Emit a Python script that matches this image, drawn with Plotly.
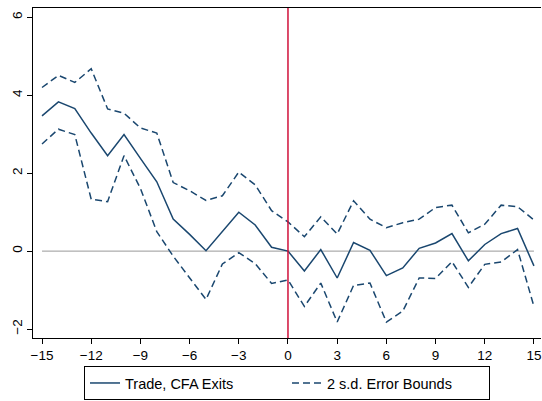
import plotly.graph_objects as go

# Event time (years relative to exit) and estimated trade effect with 2 s.d. bounds
periods = list(range(-15, 16))
estimate = [3.47, 3.83, 3.66, 3.03, 2.45, 2.99, 2.38, 1.78, 0.82, 0.43, 0.01, 0.50, 1.00, 0.67, 0.10, 0.00,
            -0.51, 0.04, -0.69, 0.22, 0.02, -0.63, -0.43, 0.07, 0.21, 0.45, -0.25, 0.17, 0.45, 0.58, -0.38]
upper = [4.20, 4.51, 4.33, 4.68, 3.65, 3.54, 3.16, 3.03, 1.76, 1.55, 1.30, 1.42, 2.03, 1.70, 1.04, 0.75,
         0.37, 0.88, 0.44, 1.29, 0.82, 0.60, 0.73, 0.82, 1.12, 1.18, 0.47, 0.69, 1.18, 1.14, 0.80]
lower = [2.75, 3.13, 2.99, 1.33, 1.27, 2.45, 1.61, 0.50, -0.13, -0.68, -1.24, -0.33, -0.04, -0.32, -0.83, -0.74,
         -1.42, -0.82, -1.82, -0.88, -0.82, -1.82, -1.54, -0.69, -0.70, -0.27, -0.93, -0.34, -0.28, 0.04, -1.42]
x_ticks = list(range(-15, 16, 3))
y_ticks = [-2, 0, 2, 4, 6]

navy = "#1a476f"
font = "Liberation Sans, Arial, sans-serif"

fig = go.Figure()
fig.add_trace(go.Scatter(x=periods, y=estimate, mode="lines", name="Trade, CFA Exits",
                         line=dict(color=navy, width=1.5)))
fig.add_trace(go.Scatter(x=periods, y=upper, mode="lines", name="2 s.d. Error Bounds",
                         line=dict(color=navy, width=1.5, dash="7px,4px")))
fig.add_trace(go.Scatter(x=periods, y=lower, mode="lines", name="2 s.d. Error Bounds",
                         showlegend=False, line=dict(color=navy, width=1.5, dash="7px,4px")))

# zero reference line and event marker
fig.add_shape(type="line", x0=min(periods), x1=max(periods), y0=0, y1=0, xref="x", yref="y",
              line=dict(color="#999999", width=1), layer="below")
fig.add_shape(type="line", x0=0, x1=0, y0=0, y1=1, xref="x", yref="paper",
              line=dict(color="#d0103a", width=1.5))

fig.update_layout(
    width=542, height=401,
    margin=dict(l=33, r=1, t=8, b=63, autoexpand=False),
    paper_bgcolor="white", plot_bgcolor="white",
    font=dict(family=font, size=13.5, color="black"),
    showlegend=True,
    legend=dict(orientation="h", x=0.5, xanchor="center", y=-0.085, yanchor="top",
                bordercolor="black", borderwidth=1, font=dict(size=14.5, family=font),
                entrywidth=157, entrywidthmode="pixels", tracegroupgap=0),
)
fig.update_xaxes(range=[-15.55, 15.43], tickvals=x_ticks, ticks="outside", ticklen=5,
                 tickcolor="black", showline=True, linecolor="black", linewidth=1,
                 mirror=True, showgrid=False, zeroline=False)
fig.update_yaxes(range=[-2.23, 6.24], tickvals=y_ticks, ticks="outside", ticklen=5,
                 tickcolor="black", showline=True, linecolor="black", linewidth=1,
                 showgrid=False, zeroline=False, tickangle=-90)

fig.write_html("out.html")
